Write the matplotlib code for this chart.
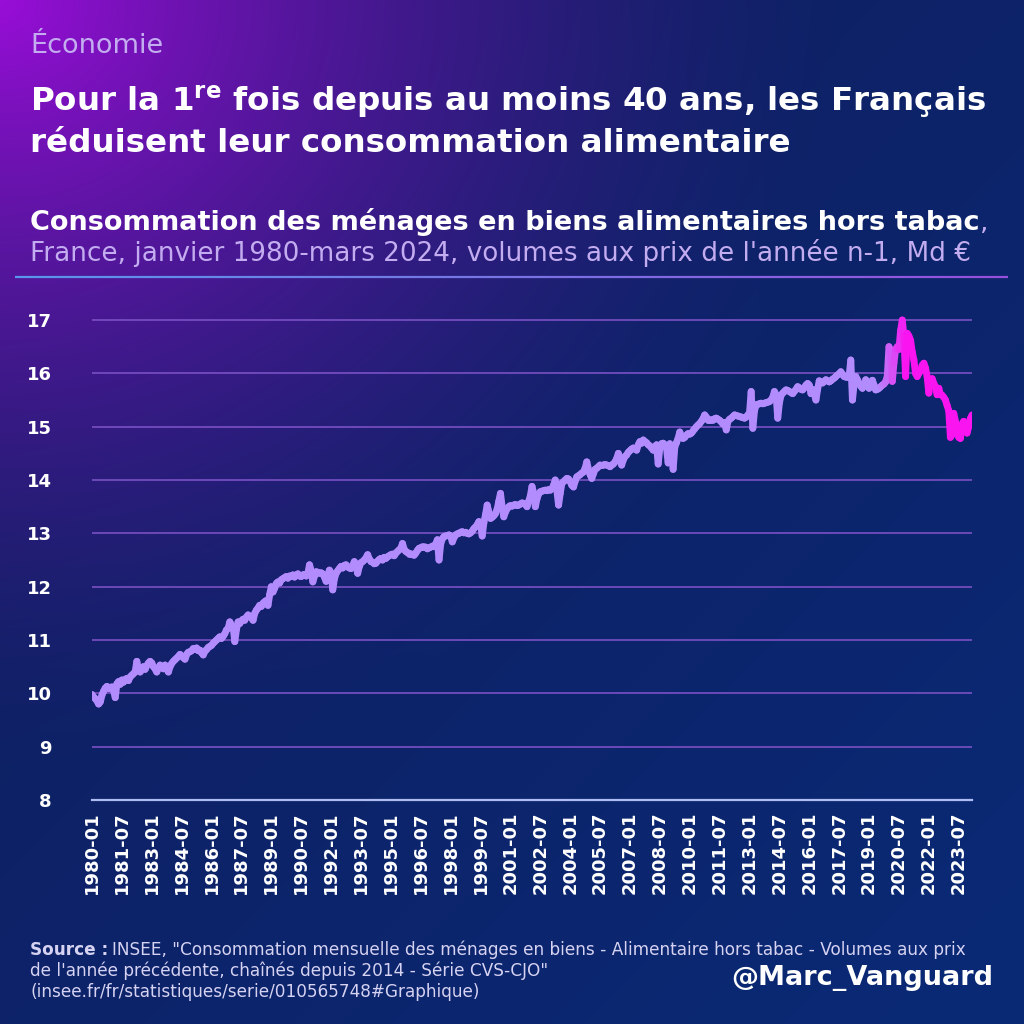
import numpy as np
import matplotlib
matplotlib.use("Agg")
import matplotlib.pyplot as plt
from matplotlib.collections import LineCollection

# ---------------- DATA (monthly, Md EUR, Jan 1980 - Mar 2024) ----------------
v1980 = [9.98, 9.93, 9.90, 9.86, 9.80, 9.84, 9.97, 10.04, 10.10, 10.13, 10.09, 10.11]
v1981 = [10.12, 10.05, 9.92, 10.18, 10.22, 10.17, 10.25, 10.21, 10.26, 10.28, 10.24, 10.31]
v1982 = [10.34, 10.37, 10.40, 10.60, 10.44, 10.40, 10.45, 10.50, 10.45, 10.52, 10.57, 10.60]
v1983 = [10.57, 10.50, 10.46, 10.40, 10.47, 10.53, 10.50, 10.46, 10.53, 10.46, 10.40, 10.50]
v1984 = [10.56, 10.60, 10.63, 10.66, 10.69, 10.73, 10.70, 10.67, 10.64, 10.73, 10.77, 10.78]
v1985 = [10.80, 10.84, 10.82, 10.85, 10.80, 10.81, 10.76, 10.72, 10.79, 10.82, 10.86, 10.88]
v1986 = [10.90, 10.94, 10.97, 11.00, 11.03, 11.06, 11.03, 11.07, 11.12, 11.19, 11.22, 11.34]
v1987 = [11.28, 11.24, 10.97, 11.20, 11.34, 11.31, 11.36, 11.39, 11.37, 11.43, 11.47, 11.44]
v1988 = [11.42, 11.37, 11.50, 11.56, 11.60, 11.65, 11.63, 11.69, 11.72, 11.74, 11.65, 11.85]
v1989 = [12.00, 11.90, 11.97, 12.06, 12.09, 12.07, 12.13, 12.15, 12.17, 12.19, 12.16, 12.20]
v1990 = [12.19, 12.22, 12.18, 12.22, 12.24, 12.20, 12.19, 12.22, 12.23, 12.20, 12.25, 12.41]
v1991 = [12.30, 12.09, 12.20, 12.28, 12.27, 12.25, 12.26, 12.24, 12.18, 12.10, 12.22, 12.31]
v1992 = [12.26, 11.94, 12.15, 12.25, 12.30, 12.34, 12.38, 12.35, 12.40, 12.41, 12.37, 12.35]
v1993 = [12.34, 12.40, 12.47, 12.40, 12.25, 12.38, 12.45, 12.47, 12.50, 12.54, 12.60, 12.52]
v1994 = [12.47, 12.46, 12.43, 12.44, 12.48, 12.51, 12.53, 12.50, 12.55, 12.53, 12.56, 12.58]
v1995 = [12.60, 12.61, 12.58, 12.63, 12.66, 12.69, 12.72, 12.81, 12.70, 12.66, 12.64, 12.62]
v1996 = [12.62, 12.60, 12.59, 12.63, 12.68, 12.72, 12.73, 12.75, 12.75, 12.74, 12.71, 12.73]
v1997 = [12.74, 12.76, 12.75, 12.80, 12.88, 12.50, 12.80, 12.90, 12.94, 12.95, 12.96, 12.97]
v1998 = [12.95, 12.84, 12.92, 12.97, 12.99, 13.00, 13.02, 13.03, 13.01, 13.02, 13.00, 12.99]
v1999 = [13.01, 13.04, 13.09, 13.12, 13.16, 13.22, 13.18, 12.95, 13.20, 13.35, 13.53, 13.40]
v2000 = [13.28, 13.30, 13.33, 13.37, 13.45, 13.60, 13.75, 13.50, 13.31, 13.40, 13.46, 13.50]
v2001 = [13.52, 13.51, 13.53, 13.54, 13.52, 13.53, 13.55, 13.57, 13.56, 13.54, 13.50, 13.60]
v2002 = [13.70, 13.88, 13.75, 13.50, 13.65, 13.74, 13.78, 13.79, 13.80, 13.81, 13.80, 13.82]
v2003 = [13.81, 13.84, 13.90, 14.00, 13.80, 13.53, 13.75, 13.94, 13.97, 14.00, 14.03, 14.02]
v2004 = [13.97, 13.90, 13.87, 13.98, 14.06, 14.08, 14.10, 14.13, 14.15, 14.22, 14.34, 14.20]
v2005 = [14.10, 14.03, 14.12, 14.20, 14.22, 14.25, 14.28, 14.27, 14.28, 14.29, 14.28, 14.27]
v2006 = [14.25, 14.28, 14.30, 14.34, 14.40, 14.50, 14.40, 14.28, 14.38, 14.44, 14.47, 14.52]
v2007 = [14.55, 14.58, 14.60, 14.58, 14.56, 14.66, 14.72, 14.69, 14.75, 14.72, 14.70, 14.66]
v2008 = [14.64, 14.60, 14.56, 14.62, 14.66, 14.30, 14.62, 14.68, 14.69, 14.66, 14.60, 14.32]
v2009 = [14.68, 14.62, 14.20, 14.62, 14.70, 14.78, 14.90, 14.82, 14.78, 14.80, 14.84, 14.87]
v2010 = [14.86, 14.88, 14.92, 14.96, 15.00, 15.03, 15.06, 15.10, 15.15, 15.22, 15.18, 15.12]
v2011 = [15.12, 15.13, 15.12, 15.15, 15.16, 15.14, 15.12, 15.09, 15.05, 15.08, 14.94, 15.10]
v2012 = [15.14, 15.16, 15.19, 15.22, 15.21, 15.20, 15.19, 15.18, 15.17, 15.16, 15.18, 15.22]
v2013 = [15.25, 15.66, 14.97, 15.30, 15.41, 15.42, 15.43, 15.44, 15.43, 15.44, 15.45, 15.46]
v2014 = [15.47, 15.50, 15.55, 15.66, 15.60, 15.16, 15.45, 15.59, 15.63, 15.66, 15.69, 15.68]
v2015 = [15.66, 15.64, 15.62, 15.66, 15.70, 15.75, 15.73, 15.70, 15.69, 15.73, 15.78, 15.81]
v2016 = [15.78, 15.62, 15.70, 15.62, 15.50, 15.70, 15.86, 15.84, 15.82, 15.85, 15.88, 15.86]
v2017 = [15.84, 15.86, 15.89, 15.91, 15.94, 15.97, 15.99, 16.03, 15.98, 15.94, 15.93, 15.94]
v2018 = [15.94, 16.25, 15.50, 15.80, 15.94, 15.88, 15.81, 15.76, 15.72, 15.80, 15.88, 15.82]
v2019 = [15.72, 15.80, 15.87, 15.78, 15.69, 15.70, 15.72, 15.75, 15.78, 15.80, 15.84, 15.95]
v2020 = [16.50, 16.40, 15.85, 16.20, 16.45, 16.50, 16.45, 16.80, 17.00, 16.70, 15.94, 16.75]
v2021 = [16.70, 16.62, 16.40, 16.25, 16.00, 15.94, 16.00, 16.05, 16.15, 16.19, 16.10, 15.94]
v2022 = [15.63, 15.85, 15.90, 15.81, 15.75, 15.60, 15.72, 15.60, 15.59, 15.55, 15.50, 15.40]
v2023 = [15.30, 14.80, 14.85, 15.25, 15.10, 15.00, 14.80, 14.78, 15.05, 15.10, 15.00, 14.88]
v2024 = [15.00, 15.15, 15.22]

yearly_values = [v1980, v1981, v1982, v1983, v1984, v1985, v1986, v1987, v1988, v1989,
                 v1990, v1991, v1992, v1993, v1994, v1995, v1996, v1997, v1998, v1999,
                 v2000, v2001, v2002, v2003, v2004, v2005, v2006, v2007, v2008, v2009,
                 v2010, v2011, v2012, v2013, v2014, v2015, v2016, v2017, v2018, v2019,
                 v2020, v2021, v2022, v2023, v2024]

x_tick_labels = ["1980-01", "1981-07", "1983-01", "1984-07", "1986-01", "1987-07",
                 "1989-01", "1990-07", "1992-01", "1993-07", "1995-01", "1996-07",
                 "1998-01", "1999-07", "2001-01", "2002-07", "2004-01", "2005-07",
                 "2007-01", "2008-07", "2010-01", "2011-07", "2013-01", "2014-07",
                 "2016-01", "2017-07", "2019-01", "2020-07", "2022-01", "2023-07"]
tick_step_months = 18
y_ticks = [8, 9, 10, 11, 12, 13, 14, 15, 16, 17]

# ---------------- FIGURE ----------------
W = H = 1024
fig = plt.figure(figsize=(10.24, 10.24), dpi=100)

# background gradient
n = 400
yy, xx = np.mgrid[0:n, 0:n] / (n - 1)
navy1 = np.array([16, 28, 92]) / 255
navy2 = np.array([10, 42, 118]) / 255
purple = np.array([152, 14, 215]) / 255
s = np.clip((xx + yy) / 2, 0, 1)[..., None]
base = navy1 * (1 - s) + navy2 * s
d = np.sqrt((xx / 1.05) ** 2 + (yy / 0.95) ** 2)
w = (np.clip(1 - d / 0.80, 0, 1) ** 1.6)[..., None]
img = base * (1 - w) + purple * w
bg = fig.add_axes([0, 0, 1, 1], zorder=-10)
bg.imshow(img, extent=[0, 1, 0, 1], aspect="auto", interpolation="bilinear")
bg.axis("off")

# main axes
values = np.concatenate([np.asarray(v, dtype=float) for v in yearly_values])
months = np.arange(len(values))

ymin, ymax = 8, 17.2
ax_left, ax_right, ax_bottom = 92, 972, 800
px_per_unit = 53.33
ax_top = ax_bottom - (ymax - ymin) * px_per_unit
ax = fig.add_axes([ax_left / W, 1 - ax_bottom / H,
                   (ax_right - ax_left) / W, (ax_bottom - ax_top) / H])
ax.set_facecolor("none")
ax.set_xlim(months[0], months[-1])
ax.set_ylim(ymin, ymax)

for sp in ["top", "right", "left"]:
    ax.spines[sp].set_visible(False)
ax.spines["bottom"].set_color("#aebcf2")
ax.spines["bottom"].set_linewidth(1.6)

ax.set_yticks(y_ticks)
ax.set_yticklabels([str(t) for t in y_ticks])
ax.set_xticks(months[::tick_step_months][:len(x_tick_labels)])
ax.set_xticklabels(x_tick_labels, rotation=90)
ax.grid(axis="y", color="#7a50c4", linewidth=1.2)
ax.set_axisbelow(True)
ax.tick_params(axis="y", length=0, pad=29, labelsize=13, labelcolor="white")
ax.tick_params(axis="x", length=0, pad=8, labelsize=13, labelcolor="white")
for lbl in ax.get_yticklabels() + ax.get_xticklabels():
    lbl.set_fontweight("bold")
    lbl.set_fontfamily("DejaVu Sans")

# line with colour transition lavender -> magenta
pts = np.column_stack([months, values])
segs = np.stack([pts[:-1], pts[1:]], axis=1)
lav = np.array([178, 140, 252]) / 255
mag = np.array([250, 20, 240]) / 255
t = np.clip((months[:-1] - 474) / 16.0, 0, 1)[:, None]
cols = lav * (1 - t) + mag * t
lc = LineCollection(segs, colors=cols, linewidths=5.0, capstyle="round",
                    joinstyle="round", zorder=3)
ax.add_collection(lc)

# ---------------- TEXTS ----------------
def fx(px):
    return px / W

def fy(py):
    return 1 - py / H

light = "#c3acf0"
fig.text(fx(30), fy(53), "Économie", fontsize=19.5, color=light,
         ha="left", va="baseline")
fig.text(fx(30), fy(111), r"Pour la 1$^{\mathbf{re}}$ fois depuis au moins 40 ans, les Français",
         fontsize=23.4, weight="bold", color="white", ha="left", va="baseline")
fig.text(fx(30), fy(152), "réduisent leur consommation alimentaire",
         fontsize=23.4, weight="bold", color="white", ha="left", va="baseline")

renderer = fig.canvas.get_renderer()
t1 = fig.text(fx(30), fy(230), "Consommation des ménages en biens alimentaires hors tabac",
              fontsize=19.5, weight="bold", color="white", ha="left", va="baseline")
bb = t1.get_window_extent(renderer)
fig.text(bb.x1 / W, fy(230), ",", fontsize=19.5, color=light,
         ha="left", va="baseline")
fig.text(fx(30), fy(261), "France, janvier 1980-mars 2024, volumes aux prix de l'année n-1, Md €",
         fontsize=18.9, color=light, ha="left", va="baseline")

# divider line (gradient)
xs = np.linspace(fx(15), fx(1008), 100)
dsegs = np.stack([np.column_stack([xs[:-1], np.full(99, fy(277))]),
                  np.column_stack([xs[1:], np.full(99, fy(277))])], axis=1)
tt = np.linspace(0, 1, 99)[:, None]
c_left = np.array([90, 150, 235]) / 255
c_right = np.array([150, 80, 220]) / 255
dlc = LineCollection(dsegs, colors=c_left * (1 - tt) + c_right * tt,
                     linewidths=1.6, transform=fig.transFigure)
fig.add_artist(dlc)

# source
src_col = "#d6d2f2"
src_fs = 12.2
s0 = fig.text(fx(30), fy(955), "Source :", fontsize=src_fs, weight="bold",
              color=src_col, ha="left", va="baseline")
bb0 = s0.get_window_extent(renderer)
fig.text(bb0.x1 / W + 0.004, fy(955),
         "INSEE, \"Consommation mensuelle des ménages en biens - Alimentaire hors tabac - Volumes aux prix",
         fontsize=src_fs, color=src_col, ha="left", va="baseline")
fig.text(fx(30), fy(976), "de l'année précédente, chaînés depuis 2014 - Série CVS-CJO\"",
         fontsize=src_fs, color=src_col, ha="left", va="baseline")
fig.text(fx(30), fy(997), "(insee.fr/fr/statistiques/serie/010565748#Graphique)",
         fontsize=src_fs, color=src_col, ha="left", va="baseline")
fig.text(fx(993), fy(985), "@Marc_Vanguard", fontsize=19.5, weight="bold",
         color="white", ha="right", va="baseline")

fig.savefig("out.png", dpi=100)
